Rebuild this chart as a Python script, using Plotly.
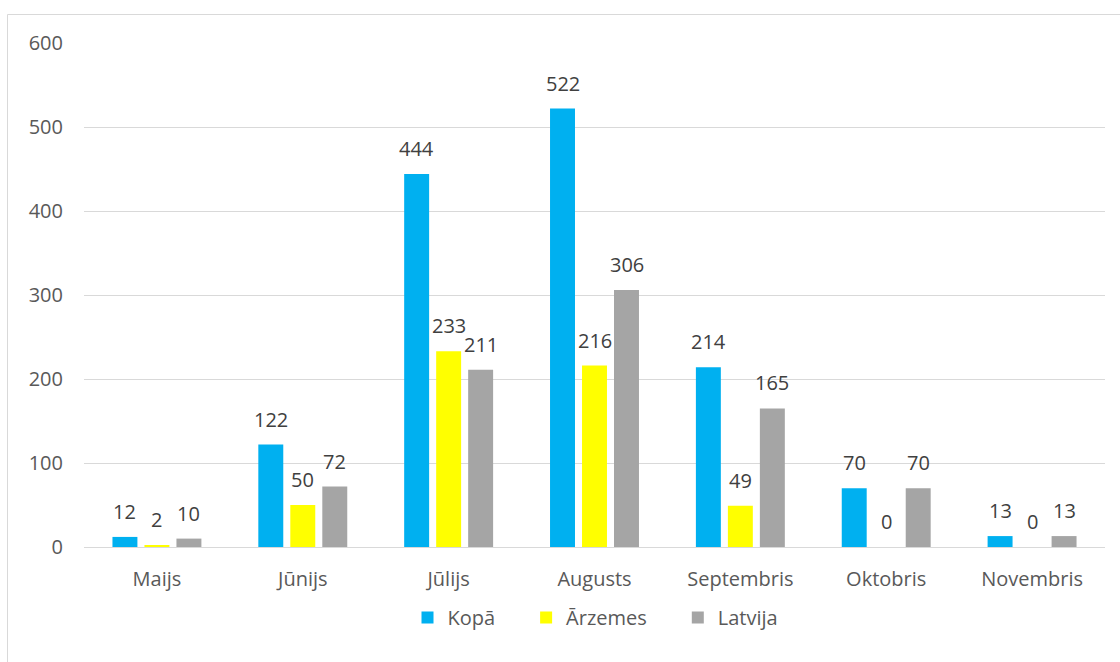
import plotly.graph_objects as go

categories = ["Maijs", "Jūnijs", "Jūlijs", "Augusts", "Septembris", "Oktobris", "Novembris"]
kopa = [12, 122, 444, 522, 214, 70, 13]
arzemes = [2, 50, 233, 216, 49, 0, 0]
latvija = [10, 72, 211, 306, 165, 70, 13]
series_names = ["Kopā", "Ārzemes", "Latvija"]
colors = ["#00B0F0", "#FFFF00", "#A5A5A5"]

W, H = 1120, 662
L, R, T, B = 84, 15, 43, 115
pw, ph = W - L - R, H - T - B
SLOT = 32  # px between bar centres within a group
FONT = "Open Sans"

fig = go.Figure()
annotations = []
all_series = [kopa, arzemes, latvija]
for i, (name, vals, col) in enumerate(zip(series_names, all_series, colors)):
    fig.add_trace(go.Bar(
        x=categories, y=vals, name=name + "\u00a0" * 5,
        marker=dict(color=col, line=dict(width=0)),
    ))
    for c, v in zip(categories, vals):
        annotations.append(dict(
            x=c, y=v, xref="x", yref="y", text=str(v), showarrow=False,
            xshift=(i - 1) * SLOT, yshift=10, yanchor="bottom",
            font=dict(size=20, color="#404040", family=FONT),
        ))

def px_x(p):
    return (p - L) / pw

def px_y(p):
    return 1 - (p - T) / ph

fig.update_layout(
    width=W, height=H,
    margin=dict(l=L, r=R, t=T, b=B, autoexpand=False),
    paper_bgcolor="white", plot_bgcolor="white",
    barmode="group", bargap=0.342, bargroupgap=0.22,
    font=dict(family=FONT, color="#595959", size=20),
    showlegend=True,
    legend=dict(orientation="h", x=0.5 + 14 / pw, xanchor="center", y=px_y(598), yanchor="top",
                font=dict(size=20, color="#595959"), itemwidth=30, traceorder="normal",
                itemclick=False),
    xaxis=dict(showgrid=False, showline=False, ticks="", ticklabelstandoff=18,
               tickfont=dict(size=20, color="#595959")),
    yaxis=dict(range=[0, 600], dtick=100, showgrid=True, gridcolor="#D9D9D9", gridwidth=1,
               zeroline=True, zerolinecolor="#D9D9D9", zerolinewidth=1, showline=False,
               ticks="", ticklabelstandoff=20, tickfont=dict(size=20, color="#595959")),
    annotations=annotations,
    shapes=[dict(type="rect", xref="paper", yref="paper",
                 x0=px_x(7.5), x1=px_x(1130), y0=px_y(675), y1=px_y(14.5),
                 line=dict(color="#D9D9D9", width=1), fillcolor="rgba(0,0,0,0)", layer="below")],
)
fig.write_html("out.html", config={"displayModeBar": False},
               post_script="document.body.style.margin='0';document.body.style.overflow='hidden';")
